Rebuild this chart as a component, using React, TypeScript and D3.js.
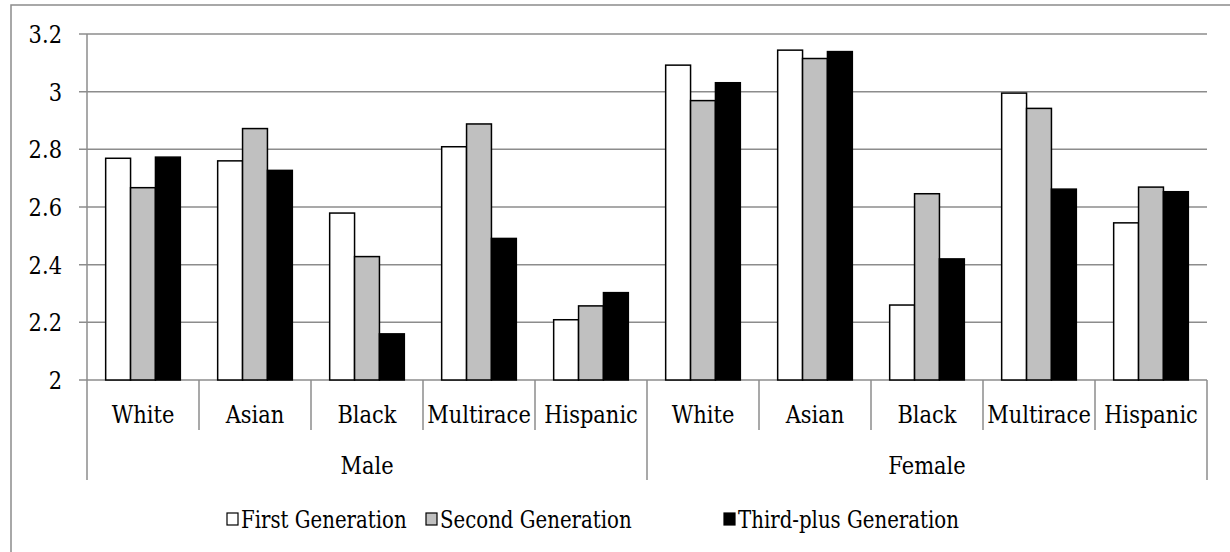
import React from "react";
import * as d3 from "d3";

const genders = ["Male", "Female"];
const races = ["White", "Asian", "Black", "Multirace", "Hispanic"];
const seriesNames = ["First Generation", "Second Generation", "Third-plus Generation"];
const seriesColors = ["#ffffff", "#c0c0c0", "#000000"];
// values per gender×race, in order Male(White..Hispanic), Female(White..Hispanic)
const firstGen = [2.769, 2.76, 2.579, 2.809, 2.209, 3.092, 3.144, 2.26, 2.995, 2.545];
const secondGen = [2.667, 2.872, 2.428, 2.888, 2.257, 2.969, 3.115, 2.646, 2.942, 2.669];
const thirdGen = [2.773, 2.727, 2.16, 2.491, 2.303, 3.031, 3.139, 2.42, 2.662, 2.653];
const yTicks = [2, 2.2, 2.4, 2.6, 2.8, 3, 3.2];

const font = "'DejaVu Serif', serif";

function T({ x, y, anchor = "start", sx = 0.84, fs = 25, children }: any) {
  return (
    <text
      transform={`translate(${x},${y}) scale(${sx},1)`}
      textAnchor={anchor}
      fontFamily={font}
      fontSize={fs}
      fill="#000"
    >
      {children}
    </text>
  );
}

export default function App() {
  const W = 1230, H = 552;
  const left = 87, right = 1207, top = 34, bottom = 380;
  const cats = genders.flatMap((g) => races.map((r) => `${g}|${r}`));
  const x = d3.scaleBand().domain(cats).range([left, right]).paddingInner(0).paddingOuter(0);
  const bw = x.bandwidth();
  const barW = bw / 4.5;
  const xs = d3.scaleBand().domain(seriesNames).range([0, barW * 3]);
  const y = d3.scaleLinear().domain([2, 3.2]).range([bottom, top]);
  const series = [firstGen, secondGen, thirdGen];
  const grid = "#8c8c8c";
  const groupW = bw * races.length;
  const legendX = [227, 426, 724];
  return (
    <svg width={W} height={H} style={{ position: "absolute", left: 0, top: 0, background: "#fff" }}>
      <rect x={11} y={5} width={1240} height={600} fill="#fff" stroke={grid} strokeWidth={1.5} />
      {yTicks.map((t) => (
        <g key={t}>
          <line x1={left - 8} x2={right} y1={y(t)} y2={y(t)} stroke={grid} strokeWidth={1.5} />
          <T x={62} y={y(t) + 9} anchor="end">
            {d3.format("~g")(t)}
          </T>
        </g>
      ))}
      <line x1={left} x2={left} y1={top} y2={bottom} stroke={grid} strokeWidth={1.5} />
      {cats.map((c, i) => (
        <g key={c}>
          {series.map((s, j) => (
            <rect
              key={j}
              x={(x(c) as number) + (bw - barW * 3) / 2 + (xs(seriesNames[j]) as number)}
              y={y(s[i])}
              width={barW}
              height={y(2) - y(s[i])}
              fill={seriesColors[j]}
              stroke="#000"
              strokeWidth={1.5}
            />
          ))}
        </g>
      ))}
      {cats.map((c, i) =>
        i % races.length === 0 ? null : (
          <line key={"t" + c} x1={x(c)} x2={x(c)} y1={bottom} y2={430} stroke={grid} strokeWidth={1.5} />
        )
      )}
      {[0, 1, 2].map((k) => (
        <line key={"g" + k} x1={left + k * groupW} x2={left + k * groupW} y1={bottom} y2={480} stroke={grid} strokeWidth={1.5} />
      ))}
      {cats.map((c) => (
        <T key={"l" + c} x={(x(c) as number) + bw / 2} y={423} anchor="middle">
          {c.split("|")[1]}
        </T>
      ))}
      {genders.map((g, k) => (
        <T key={g} x={left + k * groupW + groupW / 2} y={474} anchor="middle">
          {g}
        </T>
      ))}
      {seriesNames.map((n, j) => (
        <g key={n}>
          <rect x={legendX[j]} y={513} width={11} height={12} fill={seriesColors[j]} stroke="#000" strokeWidth={1.2} />
          <T x={legendX[j] + 14} y={528} sx={0.79}>
            {n}
          </T>
        </g>
      ))}
    </svg>
  );
}
